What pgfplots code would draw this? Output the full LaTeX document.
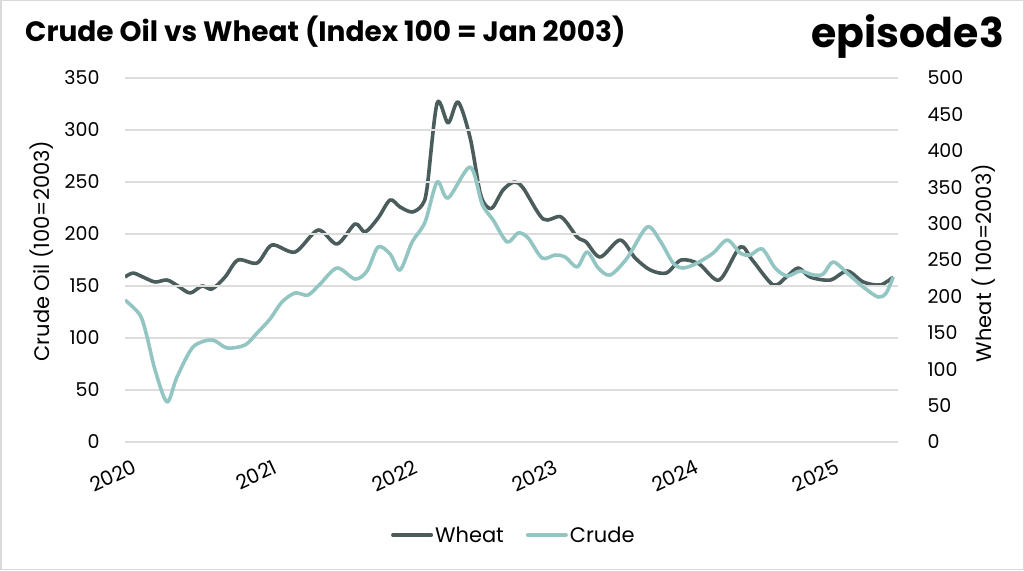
\documentclass[border=0pt]{standalone}
\usepackage{fontspec}
\setmainfont{Poppins}
\usepackage{pgfplots}
\usepackage{pgfplotstable}
\pgfplotsset{compat=1.18}
\definecolor{wheatc}{HTML}{4A5C5C}
\definecolor{crudec}{HTML}{93C6C2}
\definecolor{gridc}{HTML}{DDDDDD}
\definecolor{framec}{HTML}{D9D9D9}

\pgfplotstableread{
x v
2020.000 136.5
2020.107 122.1
2020.157 101.0
2020.214 69.2
2020.299 38.5
2020.370 62.5
2020.484 91.3
2020.619 98.1
2020.726 90.4
2020.854 93.3
2020.940 104.8
2021.032 118.3
2021.117 134.6
2021.210 143.3
2021.302 141.3
2021.388 151.9
2021.509 167.3
2021.637 156.7
2021.722 164.4
2021.801 187.5
2021.886 180.8
2021.957 165.4
2022.043 192.3
2022.135 211.5
2022.221 250.0
2022.299 234.6
2022.456 264.4
2022.541 228.8
2022.619 213.5
2022.719 192.3
2022.797 201.0
2022.868 196.2
2022.968 176.9
2023.060 179.8
2023.132 177.9
2023.217 168.3
2023.288 182.7
2023.367 167.3
2023.452 160.6
2023.573 176.9
2023.715 206.7
2023.808 193.3
2023.900 172.1
2023.972 167.3
2024.071 172.1
2024.185 181.7
2024.285 194.2
2024.377 181.7
2024.448 179.8
2024.534 185.6
2024.626 167.3
2024.712 159.6
2024.804 164.4
2024.897 160.6
2024.968 161.5
2025.039 173.1
2025.146 161.5
2025.253 149.0
2025.359 139.4
2025.416 143.3
2025.466 158.7
}\crude

\pgfplotstableread{
x w
2020.000 226.6
2020.057 232.1
2020.128 226.6
2020.214 219.8
2020.299 222.5
2020.377 214.3
2020.463 204.7
2020.548 214.3
2020.619 210.2
2020.712 226.6
2020.804 250.0
2020.940 245.9
2021.046 270.6
2021.210 261.0
2021.374 291.2
2021.509 272.0
2021.637 299.5
2021.708 288.5
2021.801 307.7
2021.886 332.4
2021.957 322.8
2022.043 315.9
2022.114 325.5
2022.149 348.9
2022.221 465.7
2022.299 438.2
2022.370 467.0
2022.456 417.6
2022.527 342.0
2022.577 322.8
2022.619 322.8
2022.690 346.2
2022.769 357.1
2022.833 348.9
2022.975 306.3
2023.103 309.1
2023.217 281.6
2023.281 274.7
2023.381 254.1
2023.523 277.5
2023.630 252.7
2023.737 236.3
2023.851 232.1
2023.957 250.0
2024.085 244.5
2024.228 222.5
2024.377 267.9
2024.463 250.0
2024.612 215.7
2024.705 226.6
2024.790 239.0
2024.875 226.6
2025.018 222.5
2025.139 234.9
2025.253 219.8
2025.374 215.7
2025.466 226.6
}\wheat

\pgfplotsset{
  common/.style={
    scale only axis, width=773pt, height=364pt,
    at={(125pt,128pt)}, anchor=south west,
    xmin=2020, xmax=2025.5,
    ticklabel style={font=\fontsize{19}{22}\selectfont, text=black},
    /pgf/number format/assume math mode=true,
    major tick length=0pt,
    tick style={draw=none},
  },
}

\begin{document}
\begin{tikzpicture}[x=1pt,y=1pt]
\draw[framec, line width=1.5pt] (0.75,0.75) rectangle (1023.25,569.25);
\node[anchor=base west, inner sep=0pt, font=\bfseries\fontsize{28}{32}\selectfont] at (25,528) {Crude Oil vs Wheat (Index 100 = Jan 2003)};
\node[anchor=base east, inner sep=0pt, font=\bfseries\fontsize{41}{44}\selectfont] at (1004,522) {episode3};
\node[rotate=90, inner sep=0pt, font=\fontsize{21}{24}\selectfont] at (42,319) {Crude Oil (100=2003)};
\node[rotate=90, inner sep=0pt, font=\fontsize{21}{24}\selectfont] at (984,307) {Wheat ( 100=2003)};

% Wheat on right axis
\begin{axis}[common,
  ymin=0, ymax=500, ytick={0,50,...,500},
  axis y line*=right, axis x line=none,
  y axis line style={draw=none},
  yticklabel style={anchor=west, xshift=26pt},
]
\addplot[wheatc, line width=3.6pt, smooth, tension=0.5, line join=round] table[x=x,y=w] {\wheat};
\end{axis}

% Crude on left axis
\begin{axis}[common,
  ymin=0, ymax=350, ytick={0,50,...,350},
  axis y line*=left, axis x line*=bottom,
  axis line style={draw=none},
  ymajorgrids, grid style={gridc, line width=1.4pt},
  xtick={2020,2021,2022,2023,2024,2025},
  xticklabels={2020,2021,2022,2023,2024,2025},
  xticklabel style={rotate=25, anchor=north east, inner sep=0pt, xshift=-1pt, yshift=-18pt, font=\fontsize{20}{22}\selectfont},
  yticklabel style={anchor=east, xshift=-22pt},
  legend style={at={(0.503,-0.2555)}, anchor=center, draw=none, fill=none,
    legend columns=2, font=\fontsize{21}{24}\selectfont,
    nodes={inner xsep=2pt},
    /tikz/every even column/.append style={column sep=20pt}},
  legend image code/.code={\draw[#1, line width=4pt, line cap=round] (0pt,0pt) -- (38pt,0pt);},
]
\addlegendimage{wheatc}
\addlegendentry{Wheat}
\addplot[crudec, line width=3.6pt, smooth, tension=0.5, line join=round] table[x=x,y=v] {\crude};
\addlegendentry{Crude}
\end{axis}
\end{tikzpicture}
\end{document}
